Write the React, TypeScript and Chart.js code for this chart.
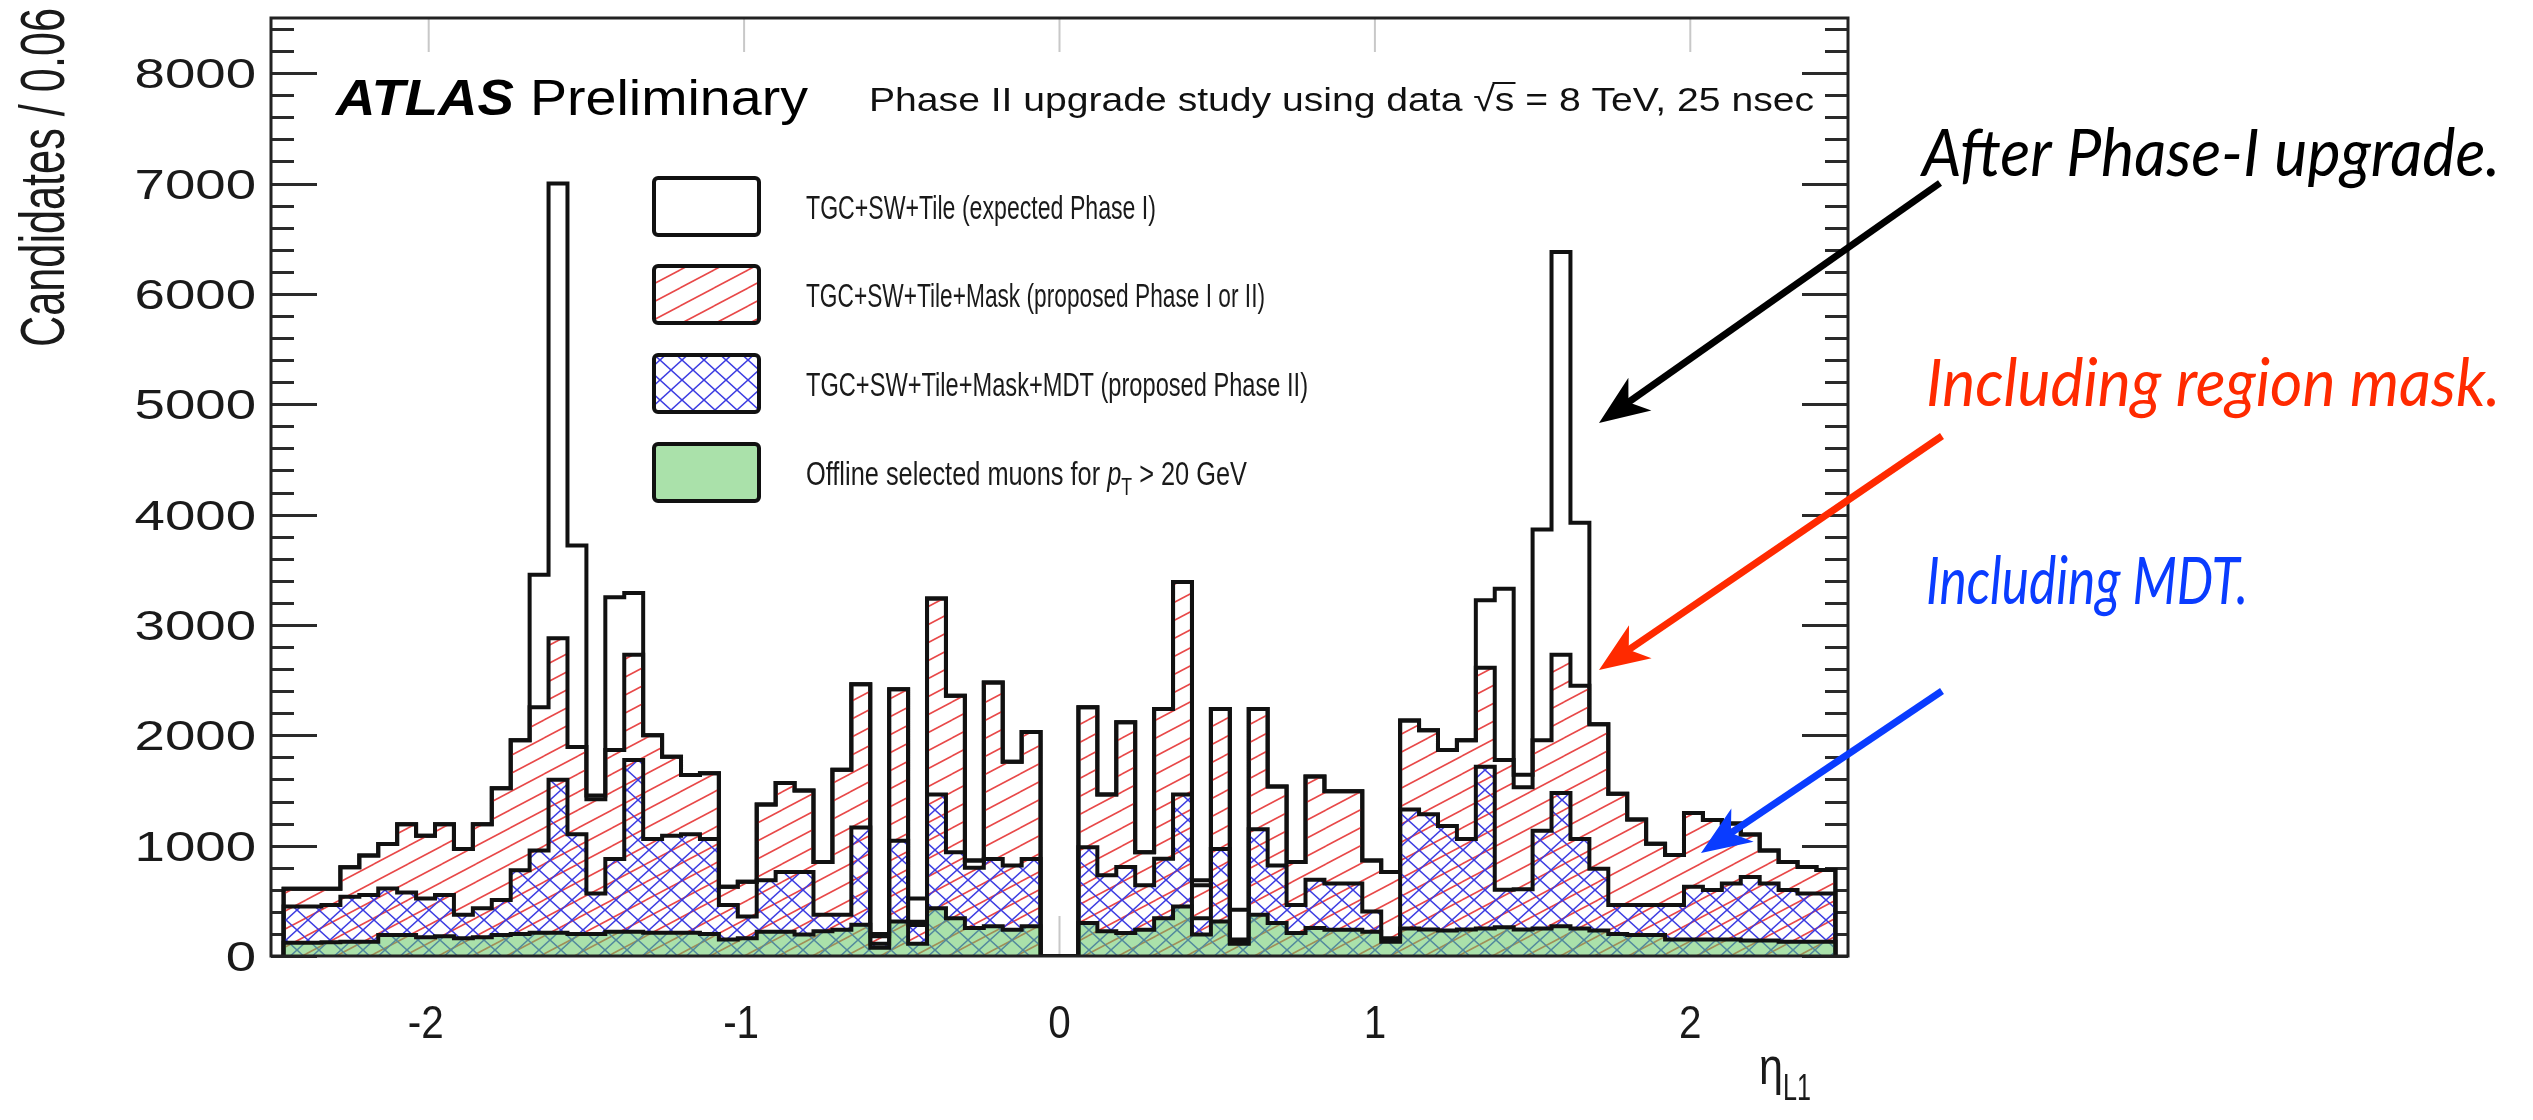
import React, { useEffect, useRef } from 'react';
import { Chart, registerables } from 'chart.js';

Chart.register(...registerables);

// ---------------- data ----------------
const ETA_MIN = -2.46;
const BIN_WIDTH = 0.06;

// TGC+SW+Tile (expected Phase I)
const TOTAL = [
  610, 610, 610, 805, 910, 1015, 1195, 1090, 1195, 970,
  1195, 1520, 1955, 3455, 7000, 3720, 1455, 3250, 3290, 2000,
  1805, 1640, 1655, 627, 672, 1373, 1567, 1500, 851, 1687,
  2463, 200, 2418, 522, 3239, 2358, 866, 2478, 1761, 2030,
  0, 0, 2254, 1463, 2119, 940, 2239, 3388, 687, 2239,
  418, 2239, 1537, 851, 1627, 1493, 1493, 866, 761, 2134,
  2045, 1866, 1955, 3224, 3328, 1642, 3866, 6380, 3925, 2100,
  1470, 1238, 1018, 915, 1295, 1232, 1200, 1100, 955, 851,
  806, 780,
];

// TGC+SW+Tile+Mask (proposed Phase I or II)
const MASK = [
  610, 610, 610, 805, 910, 1015, 1195, 1090, 1195, 970,
  1195, 1520, 1955, 2254, 2880, 1895, 1420, 1866, 2731, 2000,
  1805, 1640, 1655, 627, 672, 1373, 1567, 1500, 851, 1687,
  2463, 180, 2418, 310, 3239, 2358, 866, 2478, 1761, 2030,
  0, 0, 2254, 1463, 2119, 940, 2239, 3388, 642, 2239,
  150, 2239, 1537, 851, 1627, 1493, 1493, 866, 761, 2134,
  2045, 1866, 1955, 2612, 1776, 1530, 1955, 2731, 2448, 2100,
  1470, 1238, 1018, 915, 1295, 1232, 1200, 1100, 955, 851,
  806, 780,
];

// TGC+SW+Tile+Mask+MDT (proposed Phase II)
const MDT = [
  448, 448, 463, 537, 552, 612, 576, 522, 552, 373,
  433, 507, 776, 955, 1597, 1104, 567, 880, 1776, 1060,
  1090, 1104, 1060, 463, 358, 687, 761, 761, 373, 373,
  1164, 110, 1045, 280, 1463, 940, 800, 880, 821, 880,
  0, 0, 985, 731, 806, 642, 881, 1463, 343, 970,
  120, 1149, 821, 463, 690, 657, 657, 403, 160, 1328,
  1284, 1179, 1060, 1716, 600, 605, 1134, 1478, 1060, 791,
  463, 463, 463, 463, 627, 597, 657, 716, 657, 597,
  567, 567,
];

// Offline selected muons for pT > 20 GeV
const OFFLINE = [
  120, 120, 125, 130, 130, 190, 190, 170, 180, 160,
  170, 190, 200, 210, 210, 200, 200, 220, 220, 210,
  210, 210, 200, 150, 160, 220, 220, 194, 224, 239,
  284, 75, 313, 110, 433, 343, 254, 269, 239, 269,
  0, 0, 299, 224, 209, 239, 343, 448, 194, 313,
  110, 373, 299, 209, 254, 239, 239, 220, 130, 250,
  240, 230, 240, 250, 260, 240, 250, 270, 250, 230,
  200, 190, 190, 150, 150, 150, 150, 140, 140, 130,
  130, 130,
];

const LEGEND_LABELS = [
  'TGC+SW+Tile (expected Phase I)',
  'TGC+SW+Tile+Mask (proposed Phase I or II)',
  'TGC+SW+Tile+Mask+MDT (proposed Phase II)',
  'Offline selected muons for ',
];
const Y_TICK_LABELS = ['0', '1000', '2000', '3000', '4000', '5000', '6000', '7000', '8000'];
const X_TICK_LABELS = ['-2', '-1', '0', '1', '2'];
const ANNOTATIONS = ['After Phase-I upgrade.', 'Including region mask.', 'Including MDT.'];

// ---------------- layout ----------------
const W = 2533;
const H = 1120;
const AREA = { left: 271, right: 1848, top: 18, bottom: 956 };
const ROOT_FONT = '"Liberation Sans", Arial, Helvetica, sans-serif';
const ANN_FONT = 'Lato, "Open Sans", sans-serif';

type Part = { t: string; font: string; dy?: number; over?: number };

function drawRich(
  ctx: CanvasRenderingContext2D,
  parts: Part[],
  x: number,
  y: number,
  width: number,
  align: 'left' | 'right' | 'center',
  color: string,
) {
  ctx.save();
  let nat = 0;
  const ws: number[] = [];
  for (const p of parts) {
    ctx.font = p.font;
    const w = ctx.measureText(p.t).width;
    ws.push(w);
    nat += w;
  }
  const sx = width / nat;
  const total = nat * sx;
  const x0 = align === 'left' ? x : align === 'right' ? x - total : x - total / 2;
  ctx.translate(x0, y);
  ctx.scale(sx, 1);
  ctx.fillStyle = color;
  ctx.strokeStyle = color;
  ctx.textAlign = 'left';
  ctx.textBaseline = 'alphabetic';
  let cx = 0;
  parts.forEach((p, i) => {
    ctx.font = p.font;
    ctx.fillText(p.t, cx, p.dy || 0);
    if (p.over) {
      ctx.lineWidth = 2;
      ctx.beginPath();
      ctx.moveTo(cx - 2, -p.over);
      ctx.lineTo(cx + ws[i] + 1, -p.over);
      ctx.stroke();
    }
    cx += ws[i];
  });
  ctx.restore();
}

function makeHatch(
  ctx: CanvasRenderingContext2D,
  w: number,
  h: number,
  color: string,
  lw: number,
  dirs: Array<'up' | 'down'>,
): CanvasPattern | string {
  const c = document.createElement('canvas');
  c.width = w;
  c.height = h;
  const g = c.getContext('2d');
  if (!g) return color;
  g.strokeStyle = color;
  g.lineWidth = lw;
  for (let t = -1; t <= 1; t++) {
    for (let s = -1; s <= 1; s++) {
      const ox = t * w;
      const oy = s * h;
      for (const d of dirs) {
        g.beginPath();
        if (d === 'up') {
          g.moveTo(ox, oy + h);
          g.lineTo(ox + w, oy);
        } else {
          g.moveTo(ox, oy);
          g.lineTo(ox + w, oy + h);
        }
        g.stroke();
      }
    }
  }
  return ctx.createPattern(c, 'repeat') || color;
}

function drawArrow(
  ctx: CanvasRenderingContext2D,
  x1: number,
  y1: number,
  x2: number,
  y2: number,
  color: string,
) {
  const a = Math.atan2(y2 - y1, x2 - x1);
  const c = Math.cos(a);
  const s = Math.sin(a);
  const L = 50;
  const Wd = 20;
  const notch = 14;
  const nx = x2 - (L - notch) * c;
  const ny = y2 - (L - notch) * s;
  const bx = x2 - L * c;
  const by = y2 - L * s;
  ctx.save();
  ctx.strokeStyle = color;
  ctx.fillStyle = color;
  ctx.lineWidth = 7;
  ctx.lineCap = 'butt';
  ctx.beginPath();
  ctx.moveTo(x1, y1);
  ctx.lineTo(nx + 2 * c, ny + 2 * s);
  ctx.stroke();
  ctx.beginPath();
  ctx.moveTo(x2, y2);
  ctx.lineTo(bx - Wd * s, by + Wd * c);
  ctx.lineTo(nx, ny);
  ctx.lineTo(bx + Wd * s, by - Wd * c);
  ctx.closePath();
  ctx.fill();
  ctx.restore();
}

function stepPoints(values: number[]) {
  const n = values.length;
  const edge = (k: number) => Math.round((ETA_MIN + k * BIN_WIDTH) * 1000) / 1000;
  const pts: { x: number; y: number }[] = [{ x: edge(0), y: 0 }];
  values.forEach((v, k) => pts.push({ x: edge(k), y: v }));
  pts.push({ x: edge(n), y: values[n - 1] });
  pts.push({ x: edge(n), y: 0 });
  return pts;
}

export default function App() {
  const ref = useRef<HTMLCanvasElement | null>(null);

  useEffect(() => {
    document.body.style.margin = '0';
    const canvas = ref.current;
    if (!canvas) return;
    const ctx = canvas.getContext('2d');
    if (!ctx) return;

    const redHatch = makeHatch(ctx, 34, 18, 'rgb(232,72,72)', 1.6, ['up']);
    const blueCross = makeHatch(ctx, 22, 20, 'rgb(60,60,225)', 1.5, ['up', 'down']);
    const greenFill = 'rgba(100,200,100,0.55)';

    const decor = {
      id: 'rootDecor',
      beforeDatasetsDraw(chart: any) {
        const c: CanvasRenderingContext2D = chart.ctx;
        const ys = chart.scales.y;
        const xs = chart.scales.x;
        const a = chart.chartArea;
        c.save();
        c.strokeStyle = '#2a2a2a';
        c.lineWidth = 3;
        for (let v = 0; v <= 8400; v += 200) {
          const py = Math.round(ys.getPixelForValue(v)) + 0.5;
          const len = v % 1000 === 0 ? 46 : 23;
          c.beginPath();
          c.moveTo(a.left, py);
          c.lineTo(a.left + len, py);
          c.moveTo(a.right, py);
          c.lineTo(a.right - len, py);
          c.stroke();
        }
        c.strokeStyle = '#c8c8c8';
        c.lineWidth = 2;
        X_TICK_LABELS.forEach((lab) => {
          const px = xs.getPixelForValue(Number(lab));
          c.beginPath();
          c.moveTo(px, a.top);
          c.lineTo(px, a.top + 34);
          c.moveTo(px, a.bottom);
          c.lineTo(px, a.bottom - 40);
          c.stroke();
        });
        c.restore();
      },
      afterDatasetsDraw(chart: any) {
        const c: CanvasRenderingContext2D = chart.ctx;
        const ys = chart.scales.y;
        const xs = chart.scales.x;
        const a = chart.chartArea;
        c.save();
        // frame
        c.strokeStyle = '#222';
        c.lineWidth = 3;
        c.strokeRect(a.left, a.top, a.right - a.left, a.bottom - a.top);

        // y tick labels
        Y_TICK_LABELS.forEach((lab) => {
          const py = ys.getPixelForValue(Number(lab));
          const f = `43px ${ROOT_FONT}`;
          c.font = f;
          const w = c.measureText(lab).width * 1.27;
          drawRich(c, [{ t: lab, font: f }], 256, py + 15, w, 'right', '#1a1a1a');
        });
        // x tick labels
        X_TICK_LABELS.forEach((lab) => {
          const px = xs.getPixelForValue(Number(lab));
          const f = `47px ${ROOT_FONT}`;
          c.font = f;
          const w = c.measureText(lab).width * 0.86;
          drawRich(c, [{ t: lab, font: f }], px - (lab.startsWith('-') ? 3 : 0), 1038, w, 'center', '#1a1a1a');
        });
        // x title
        drawRich(c, [{ t: 'η', font: `52px ${ROOT_FONT}` }], 1759, 1084, 24, 'left', '#1a1a1a');
        drawRich(c, [{ t: 'L1', font: `36px ${ROOT_FONT}` }], 1783, 1100, 28, 'left', '#1a1a1a');
        // y title (rotated)
        c.save();
        c.translate(64, 347);
        c.rotate(-Math.PI / 2);
        c.scale(1, 1.45);
        drawRich(c, [{ t: 'Candidates / 0.06', font: `43px ${ROOT_FONT}` }], 0, 0, 339, 'left', '#1a1a1a');
        c.restore();

        // header
        drawRich(c, [{ t: 'ATLAS', font: `italic bold 50px ${ROOT_FONT}` }], 336, 115, 178, 'left', '#000');
        drawRich(c, [{ t: 'Preliminary', font: `50px ${ROOT_FONT}` }], 530, 115, 278, 'left', '#000');
        const hf = `34px ${ROOT_FONT}`;
        drawRich(
          c,
          [
            { t: 'Phase II upgrade study using data ', font: hf },
            { t: '√', font: hf },
            { t: 's', font: hf, over: 28 },
            { t: ' = 8 TeV, 25 nsec', font: hf },
          ],
          869,
          111,
          945,
          'left',
          '#111',
        );

        // legend
        const boxL = 654;
        const boxW = 105;
        const boxH = 57;
        const rowTop = [178, 266, 355, 444];
        const fills: Array<CanvasPattern | string> = ['#fff', redHatch, blueCross, greenFill];
        const textW = [350, 459, 502, 441];
        rowTop.forEach((t, i) => {
          c.save();
          c.fillStyle = '#fff';
          c.fillRect(boxL, t, boxW, boxH);
          c.fillStyle = fills[i] as any;
          c.fillRect(boxL, t, boxW, boxH);
          c.lineWidth = 4;
          c.lineJoin = 'round';
          c.strokeStyle = '#111';
          c.beginPath();
          (c as any).roundRect ? (c as any).roundRect(boxL, t, boxW, boxH, 4) : c.rect(boxL, t, boxW, boxH);
          c.stroke();
          c.restore();
          const lf = `33px ${ROOT_FONT}`;
          const base = t + boxH / 2 + 12;
          if (i < 3) {
            drawRich(c, [{ t: LEGEND_LABELS[i], font: lf }], 806, base, textW[i], 'left', '#1a1a1a');
          } else {
            drawRich(
              c,
              [
                { t: LEGEND_LABELS[3], font: lf },
                { t: 'p', font: `italic 33px ${ROOT_FONT}` },
                { t: 'T', font: `23px ${ROOT_FONT}`, dy: 10 },
                { t: ' > 20 GeV', font: lf },
              ],
              806,
              base,
              textW[3],
              'left',
              '#1a1a1a',
            );
          }
        });

        // annotations
        const af = `italic 66px ${ANN_FONT}`;
        drawRich(c, [{ t: ANNOTATIONS[0], font: af }], 1922, 176, 578, 'left', '#000');
        drawRich(c, [{ t: ANNOTATIONS[1], font: af }], 1926, 406, 574, 'left', '#ff2a00');
        drawRich(c, [{ t: ANNOTATIONS[2], font: af }], 1926, 604, 322, 'left', '#0a3cff');
        drawArrow(c, 1940, 183, 1599, 423, '#000');
        drawArrow(c, 1942, 436, 1599, 670, '#ff2a00');
        drawArrow(c, 1942, 691, 1701, 853, '#0a3cff');
        c.restore();
      },
    };

    const mk = (label: string, values: number[], bg: any, order: number) => ({
      label,
      data: stepPoints(values),
      stepped: 'before' as const,
      borderColor: '#111',
      borderWidth: 4,
      borderJoinStyle: 'miter' as const,
      backgroundColor: bg,
      fill: 'origin',
      pointRadius: 0,
      pointHoverRadius: 0,
      tension: 0,
      order,
    });

    const chart = new Chart(ctx, {
      type: 'line',
      data: {
        datasets: [
          mk(LEGEND_LABELS[3], OFFLINE, greenFill, 0),
          mk(LEGEND_LABELS[2], MDT, blueCross, 1),
          mk(LEGEND_LABELS[1], MASK, redHatch, 2),
          mk(LEGEND_LABELS[0], TOTAL, '#ffffff', 3),
        ],
      },
      options: {
        responsive: false,
        animation: false,
        devicePixelRatio: 1,
        layout: {
          padding: { left: AREA.left, right: W - AREA.right, top: AREA.top, bottom: H - AREA.bottom },
        },
        scales: {
          x: { type: 'linear', min: -2.5, max: 2.5, display: false },
          y: { type: 'linear', min: 0, max: 8500, display: false },
        },
        plugins: {
          legend: { display: false },
          tooltip: { enabled: false },
        },
        events: [],
      },
      plugins: [decor],
    } as any);

    return () => chart.destroy();
  }, []);

  return (
    <div style={{ position: 'absolute', left: 0, top: 0, width: W, height: H, background: '#fff' }}>
      <canvas ref={ref} width={W} height={H} style={{ width: W, height: H, display: 'block' }} />
    </div>
  );
}
